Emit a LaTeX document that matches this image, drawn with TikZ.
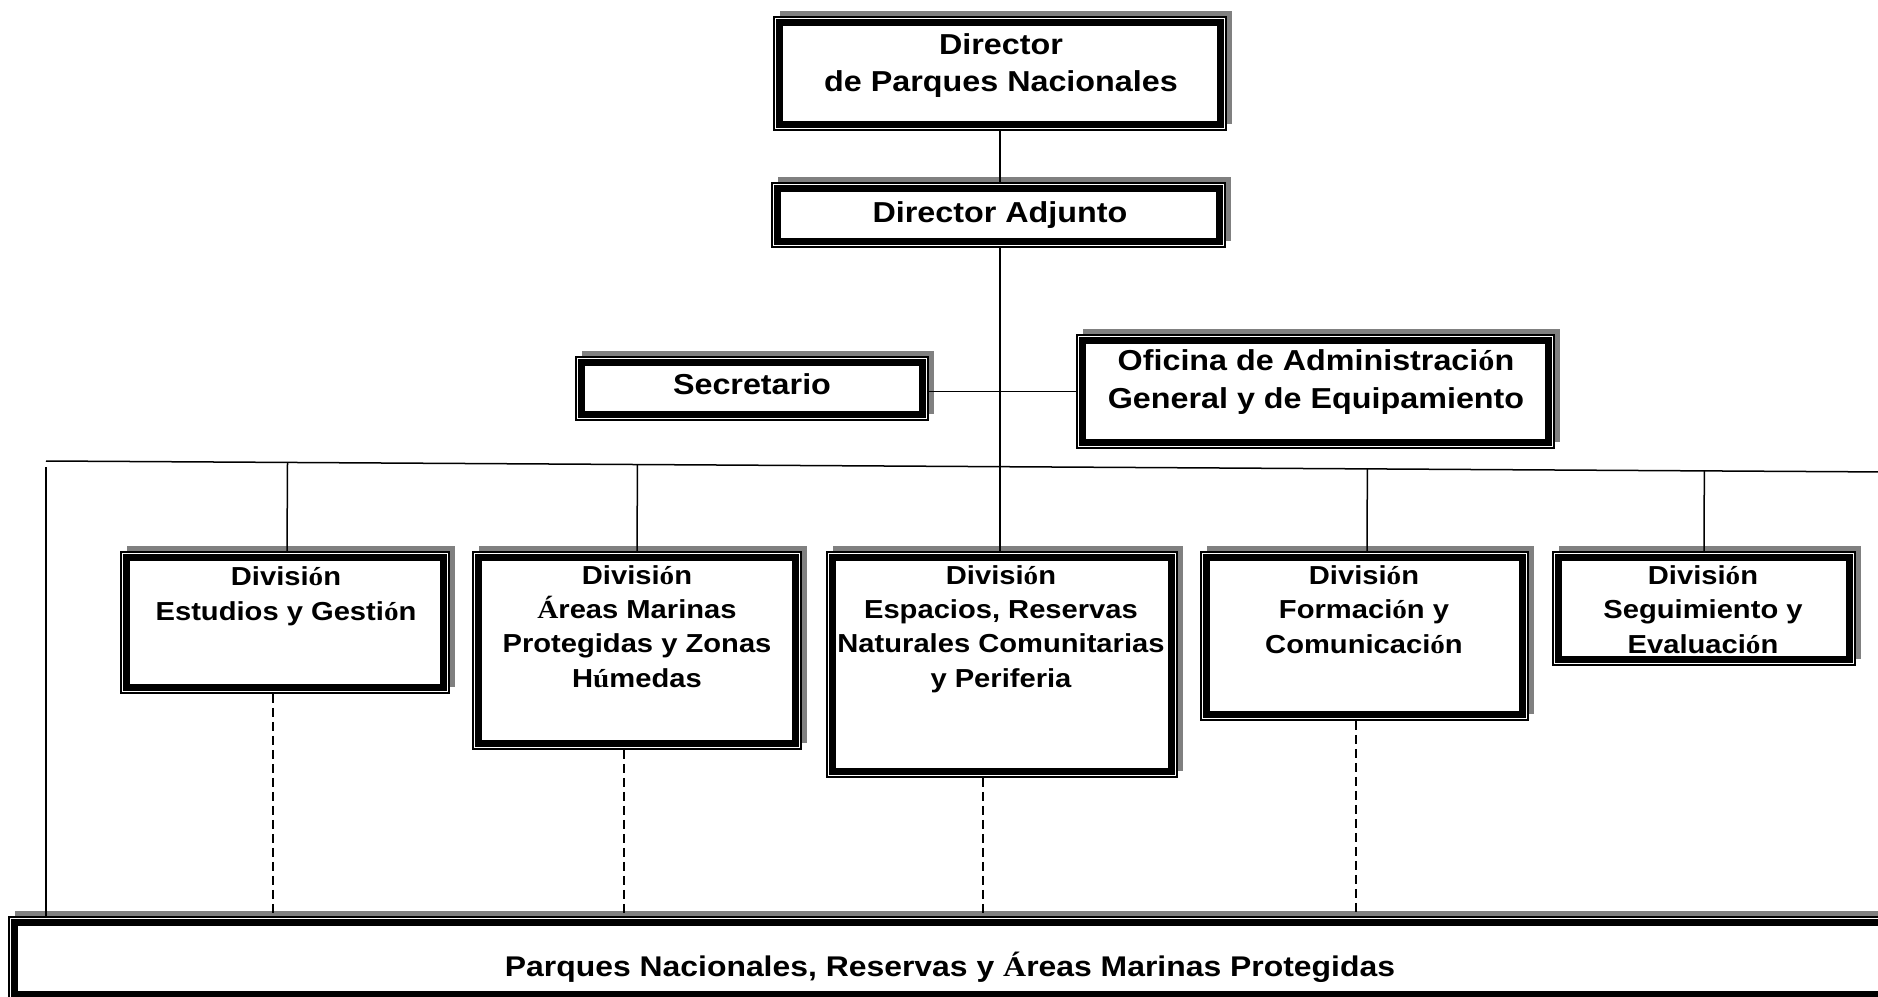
\documentclass[tikz,border=0pt]{standalone}
\usepackage{fontspec}
\newfontfamily\lsb{Liberation Sans}[FakeStretch=1.12]
\newfontfamily\lserif{Liberation Serif}[FakeStretch=1.12]
\newcommand\sa[1]{{\lserif\bfseries #1}}
\usetikzlibrary{calc}
\tikzset{
 x=0.01cm, y=-0.01cm,
 outerbox/.style={draw, line width=0.015cm, fill=white, inner sep=0pt, rectangle},
 thickbox/.style={draw, line width=0.07cm},
 shadowfill/.style={fill=black!50},
 conn/.style={draw, line width=0.015cm},
 dconn/.style={draw, line width=0.015cm, dash pattern=on 0.09cm off 0.05cm},
 divtext/.style={font=\lsb\bfseries\fontsize{7.4}{9.7}\selectfont, align=center, inner sep=0pt, anchor=base},
 toptext/.style={font=\lsb\bfseries\fontsize{8.2}{10.8}\selectfont, align=center, inner sep=0pt, anchor=base},
 bottext/.style={font=\lsb\bfseries\fontsize{8.1}{10}\selectfont, inner sep=0pt, anchor=base},
}
\newcommand\orgbox[5]{%
 \fill[shadowfill] (#2+6,#3-6) rectangle (#4+6,#5-6);
 \node[outerbox, minimum width={(#4-#2)*0.01cm}, minimum height={(#5-#3)*0.01cm}] (#1) at ({(#2+#4)/2},{(#3+#5)/2}) {};
 \draw[thickbox] ([shift={(6,6)}]#1.north west) rectangle ([shift={(-6,-6)}]#1.south east);
}
\begin{document}
\begin{tikzpicture}
\clip (0,0) rectangle (1878,997);
\fill[white] (0,0) rectangle (1878,997);
% boxes
\orgbox{dir}{774}{17}{1226}{130}
\orgbox{adj}{772}{183}{1225}{247}
\orgbox{sec}{576}{357}{928}{420}
\orgbox{ofi}{1077}{335}{1554}{448}
\orgbox{d1}{121}{552}{449}{693}
\orgbox{d2}{473}{552}{801}{749}
\orgbox{d3}{827}{552}{1177}{777}
\orgbox{d4}{1201}{552}{1528}{720}
\orgbox{d5}{1553}{552}{1855}{665}
\orgbox{pnp}{9}{917}{1900}{1000}
% helper coordinates
\coordinate (hl) at (46,461);
\coordinate (hr) at (1890,472);
\coordinate (lv) at (46,467);
\coordinate (x1) at (273,0);
\coordinate (x2) at (624,0);
\coordinate (x3) at (983,0);
\coordinate (x4) at (1356,0);
% connectors
\draw[conn] (dir.south) -- (dir.south |- adj.north);
\draw[conn] (dir.south |- adj.south) -- (dir.south |- d3.north);
\draw[conn] (sec.east |- ofi.west) -- (ofi.west);
\draw[conn] (hl) -- (hr);
\draw[conn] (lv) -- (lv |- pnp.north);
\draw[conn] ([xshift=0.02cm]d1.north) -- ($(hl)!([xshift=0.02cm]d1.north)!(hr)$);
\draw[conn] (d2.north) -- ($(hl)!(d2.north)!(hr)$);
\draw[conn] ([xshift=0.025cm]d4.north) -- ($(hl)!([xshift=0.025cm]d4.north)!(hr)$);
\draw[conn] (d5.north) -- ($(hl)!(d5.north)!(hr)$);
\draw[dconn] (x1 |- d1.south) -- (x1 |- pnp.north);
\draw[dconn] (x2 |- d2.south) -- (x2 |- pnp.north);
\draw[dconn] (x3 |- d3.south) -- (x3 |- pnp.north);
\draw[dconn] (x4 |- d4.south) -- (x4 |- pnp.north);
% texts (anchor = baseline of the last line)
\node[toptext] (tdir) at (1001,92) {Director\\de Parques Nacionales};
\node[toptext] (tadj) at (1000,222) {Director Adjunto};
\node[toptext] (tsec) at (752,394) {Secretario};
\node[toptext] (tofi) at (1316,408) {Oficina de Administraci\sa{ó}n\\General y de Equipamiento};
\node[divtext] (t1) at (286,620) {Divisi\sa{ó}n\\Estudios y Gesti\sa{ó}n};
\node[divtext] (t2) at (637,687) {Divisi\sa{ó}n\\\sa{Á}reas Marinas\\Protegidas y Zonas\\H\sa{ú}medas};
\node[divtext] (t3) at (1001,687) {Divisi\sa{ó}n\\Espacios, Reservas\\Naturales Comunitarias\\y Periferia};
\node[divtext] (t4) at (1364,653) {Divisi\sa{ó}n\\Formaci\sa{ó}n y\\Comunicaci\sa{ó}n};
\node[divtext] (t5) at (1703,653) {Divisi\sa{ó}n\\Seguimiento y\\Evaluaci\sa{ó}n};
\node[bottext] (tb) at (950,976) {Parques Nacionales, Reservas y \sa{Á}reas Marinas Protegidas};
\end{tikzpicture}
\end{document}
